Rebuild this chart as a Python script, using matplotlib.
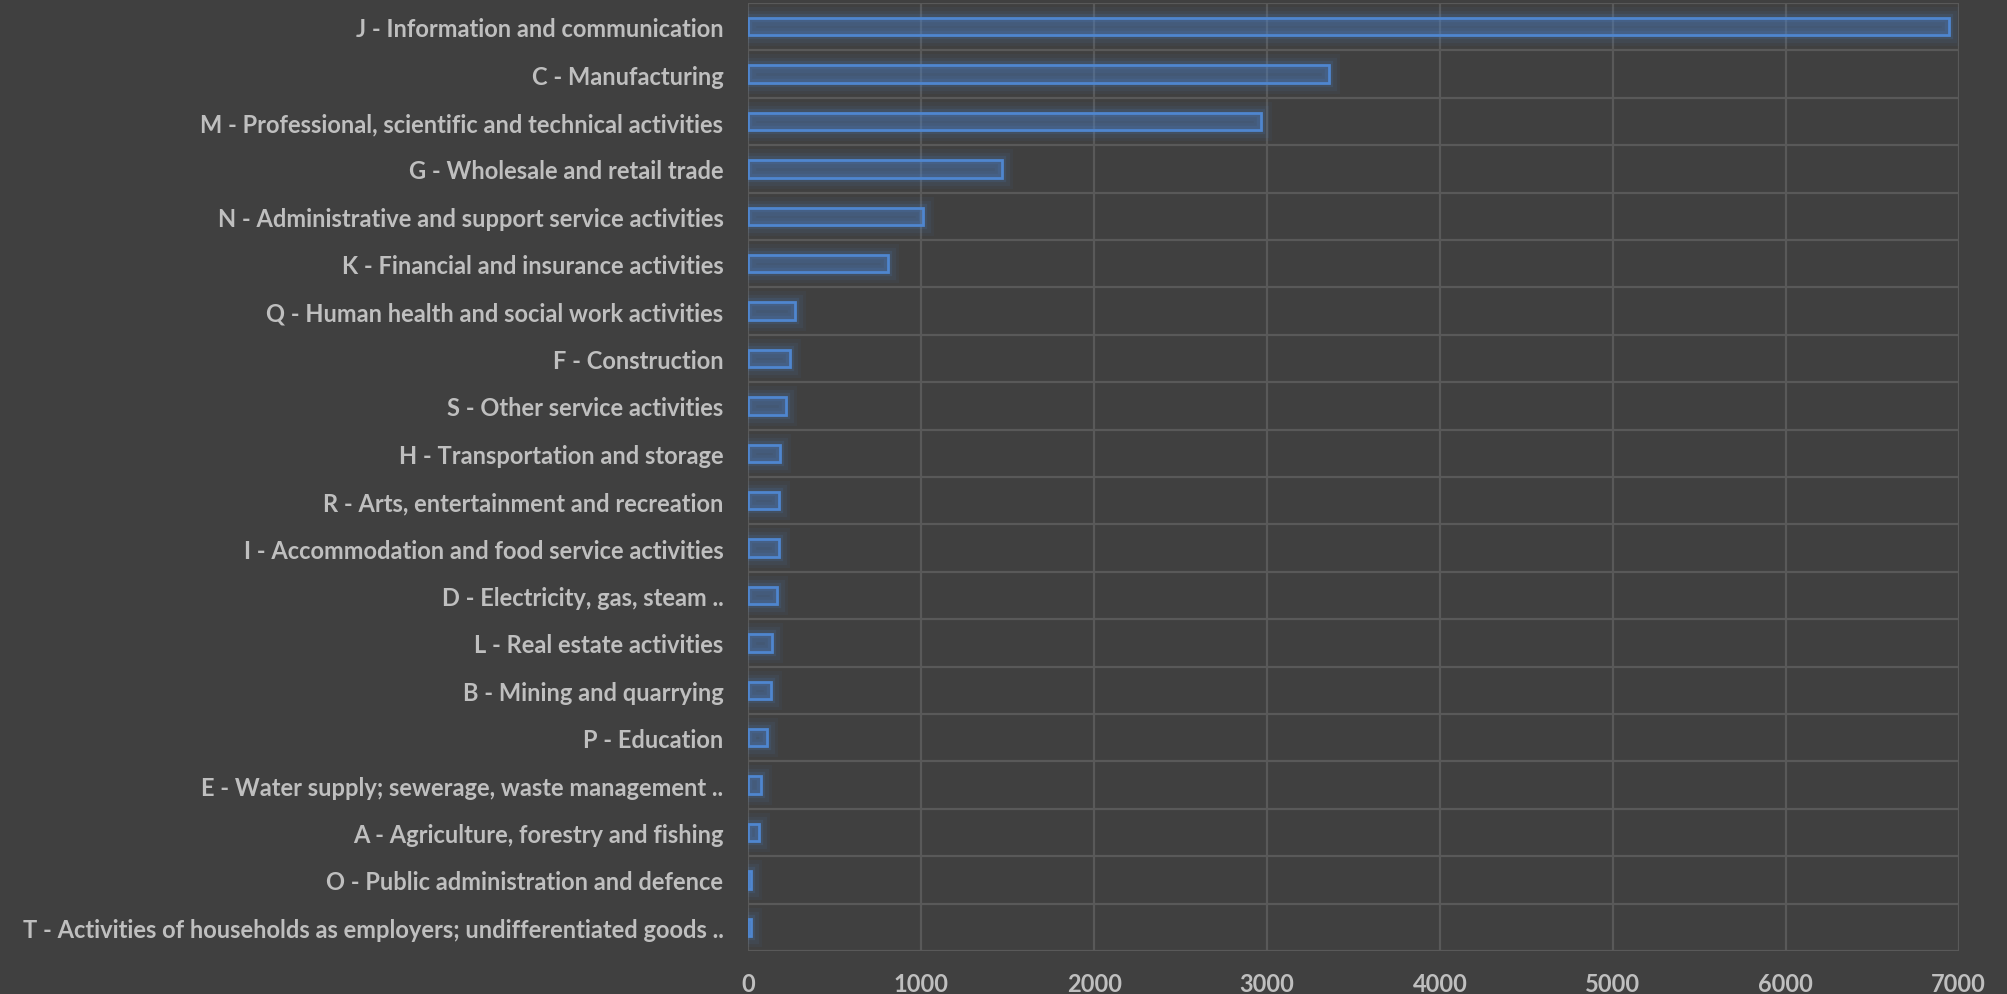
import numpy as np
import matplotlib
matplotlib.use("Agg")
from matplotlib import pyplot as plt
import matplotlib.patheffects as pe

# industry sections, ordered from largest to smallest
sections = [
    "J - Information and communication",
    "C - Manufacturing",
    "M - Professional, scientific and technical activities",
    "G - Wholesale and retail trade",
    "N - Administrative and support service activities",
    "K - Financial and insurance activities",
    "Q - Human health and social work activities",
    "F - Construction",
    "S - Other service activities",
    "H - Transportation and storage",
    "R - Arts, entertainment and recreation",
    "I - Accommodation and food service activities",
    "D - Electricity, gas, steam ..",
    "L - Real estate activities",
    "B - Mining and quarrying",
    "P - Education",
    "E - Water supply; sewerage, waste management ..",
    "A - Agriculture, forestry and fishing",
    "O - Public administration and defence",
    "T - Activities of households as employers; undifferentiated goods ..",
]
counts = [6945, 3360, 2965, 1468, 1007, 808, 269, 241, 218, 181,
          179, 179, 167, 139, 129, 110, 71, 64, 16, 14]
xticks = [0, 1000, 2000, 3000, 4000, 5000, 6000, 7000]

bg = "#404040"
grid_c = "#595959"
text_c = "#bfbfbf"
edge_c = "#4f86cf"

plt.rcParams["font.family"] = ["Lato", "DejaVu Sans"]

fig = plt.figure(figsize=(20.07, 9.95), dpi=100, facecolor=bg)
ax = fig.add_axes([0.3729, 0.0432, 0.6030, 0.9528], facecolor=bg)

y = np.arange(len(sections))
bars = ax.barh(y, counts, height=0.37, color=(0.31, 0.52, 0.81, 0.13),
               edgecolor=edge_c, linewidth=2, zorder=3)

# soft blue glow around each bar outline
glow = [
    pe.Stroke(linewidth=16, foreground=edge_c, alpha=0.05),
    pe.Stroke(linewidth=11, foreground=edge_c, alpha=0.08),
    pe.Stroke(linewidth=6, foreground=edge_c, alpha=0.14),
    pe.Normal(),
]
for b in bars:
    b.set_path_effects(glow)

ax.set_xlim(0, 7000)
ax.set_ylim(len(sections) - 0.5, -0.5)

ax.set_xticks(xticks)
ax.set_xticklabels([str(t) for t in xticks])
ax.set_yticks(y)
ax.set_yticklabels(sections)
ax.set_yticks(np.arange(-0.5, len(sections)), minor=True)

ax.tick_params(axis="x", length=0, pad=15, labelsize=17, labelcolor=text_c)
ax.tick_params(axis="y", which="both", length=0, pad=18, labelsize=17,
               labelcolor=text_c)
for lbl in ax.get_xticklabels() + ax.get_yticklabels():
    lbl.set_fontweight("bold")

ax.grid(axis="x", which="major", color=grid_c, linewidth=1.6, zorder=0)
ax.grid(axis="y", which="minor", color=grid_c, linewidth=1.6, zorder=0)
ax.grid(axis="y", which="major", visible=False)
for s in ax.spines.values():
    s.set_visible(False)

fig.savefig("out.png", dpi=100, facecolor=bg)
